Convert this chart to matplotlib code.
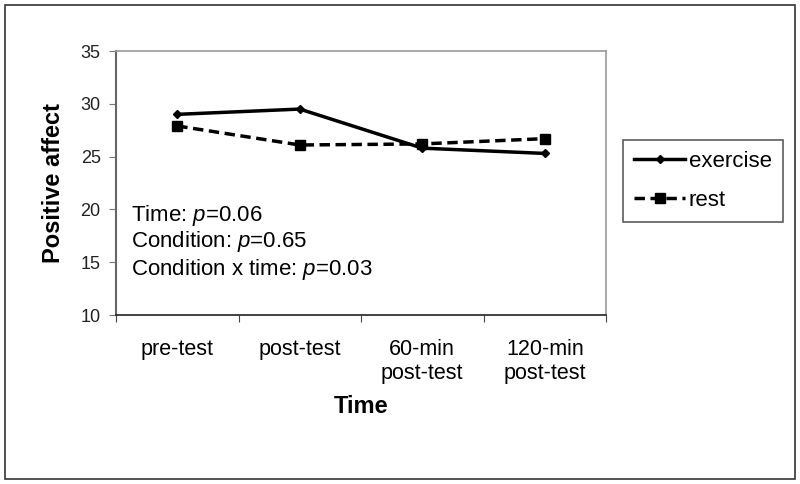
import matplotlib.pyplot as plt
from matplotlib.patches import Rectangle

# -----------------------------
# data
# -----------------------------
time_points = ["pre-test", "post-test", "60-min\npost-test", "120-min\npost-test"]
exercise = [29.0, 29.5, 25.8, 25.3]
rest = [27.9, 26.1, 26.2, 26.7]
y_ticks = [10, 15, 20, 25, 30, 35]
stats_lines = ["Time: $p$=0.06", "Condition: $p$=0.65", "Condition x time: $p$=0.03"]

plt.rcParams["font.family"] = ["Liberation Sans", "DejaVu Sans"]
plt.rcParams["mathtext.fontset"] = "custom"
plt.rcParams["mathtext.it"] = "Liberation Sans:italic"
plt.rcParams["mathtext.rm"] = "Liberation Sans"

W, H = 800, 484
fig = plt.figure(figsize=(8, 4.84), dpi=100)

# outer frame of the whole chart
fig.add_artist(Rectangle((5 / W, 5 / H), 790 / W, 474 / H, transform=fig.transFigure,
                         fill=False, edgecolor="#333333", linewidth=1.2))

# plot area: x 116-606, y 51-315 (pixels from top)
ax = fig.add_axes([116 / W, 1 - 315 / H, 490 / W, 264 / H])

x = range(len(time_points))
ax.plot(x, exercise, color="black", linewidth=2.5, marker="D", markersize=4, label="exercise")
ax.plot(x, rest, color="black", linewidth=2.5, linestyle=(0, (3, 1.6)), marker="s",
        markersize=6.5, label="rest")

ax.set_xlim(-0.5, len(time_points) - 0.5)
ax.set_ylim(10, 35)
ax.set_yticks(y_ticks)
ax.set_yticklabels([str(t) for t in y_ticks], fontsize=13, color="#222222")

# category ticks sit between the labels, like the original
ax.set_xticks([i - 0.5 for i in range(len(time_points) + 1)])
ax.set_xticklabels([])
ax.set_xticks(list(x), minor=True)
ax.set_xticklabels(time_points, minor=True, fontsize=15.5)
ax.tick_params(axis="x", which="minor", length=0, pad=17)
ax.tick_params(axis="x", which="major", length=5, color="#444444", direction="out")
ax.tick_params(axis="y", length=5, color="#777777", direction="out", pad=6)

for side in ["top", "right"]:
    ax.spines[side].set_color("#999999")
    ax.spines[side].set_linewidth(1.2)
ax.spines["left"].set_color("#666666")
ax.spines["left"].set_linewidth(1.5)
ax.spines["bottom"].set_color("#222222")
ax.spines["bottom"].set_linewidth(1.2)

ax.set_xlabel("Time", fontsize=17, fontweight="bold", labelpad=8)
ax.set_ylabel("Positive affect", fontsize=17, fontweight="bold", labelpad=11)

# stats text inside the plot
for i, line in enumerate(stats_lines):
    ax.text(131 / W, 1 - (215 + 27 * i) / H, line, transform=fig.transFigure,
            fontsize=16, va="center", ha="left")

leg = fig.legend(loc="upper left", bbox_to_anchor=(623 / W, 1 - 140 / H), frameon=True,
                 fancybox=False, edgecolor="#333333", fontsize=16, handlelength=2.3,
                 handletextpad=0.15, borderpad=0.5, labelspacing=0.8, borderaxespad=0)
leg.get_frame().set_linewidth(1.2)

fig.savefig("out.png", dpi=100)
